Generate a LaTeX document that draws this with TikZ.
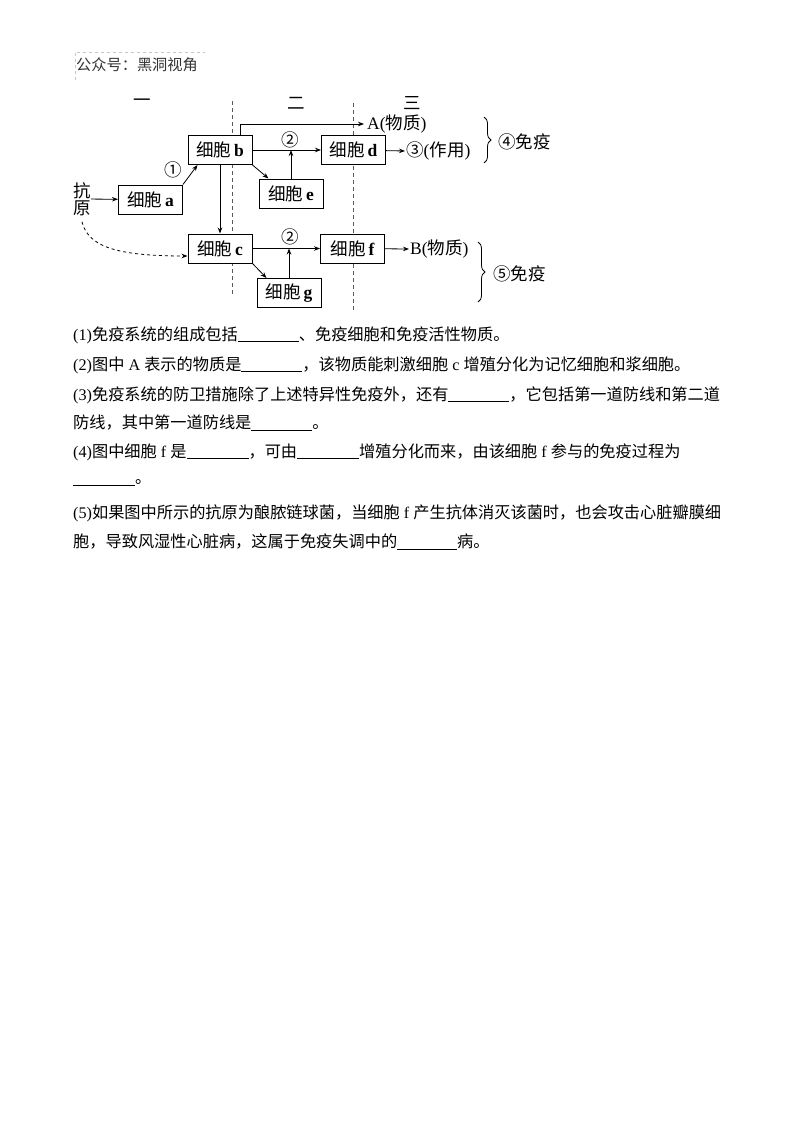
\documentclass[tikz,border=0pt]{standalone}
\usepackage{fontspec}
\setmainfont{Liberation Serif}
\newfontfamily\cjk{Noto Sans CJK SC}
\usetikzlibrary{arrows.meta,decorations.pathreplacing}
\newcommand{\la}[1]{{\rmfamily #1}}
\newcommand{\xb}[1]{细胞\,{\rmfamily\bfseries #1}}
\newcommand{\blank}[1]{\rule[-2pt]{#1}{1.3pt}}

\begin{document}
\begin{tikzpicture}[x=1pt,y=-1pt,
  box/.style={draw,fill=white,line width=1pt,minimum width=64pt,minimum height=29pt,inner sep=0pt,font=\cjk\fontsize{17.5}{17.5}\selectfont},
  lbl/.style={font=\cjk\fontsize{17.5}{17}\selectfont,inner sep=0pt},
  txt/.style={anchor=west,inner sep=0pt,font=\cjk\fontsize{16.2}{16.2}\selectfont},
  arr/.style={-{Stealth[length=6pt,width=4.5pt]},line width=0.8pt},
  sep/.style={line width=0.8pt,gray!70!black,dash pattern=on 4pt off 3pt},
  brc/.style={decorate,decoration={brace,amplitude=7pt},line width=0.8pt}]
\fill[white] (0,0) rectangle (800,1132);
\useasboundingbox (0,0) rectangle (800,1132);

% header
\draw[gray!45,dashed,line width=0.5pt] (75,80) -- (75,52) -- (205,52);
\node[txt,font=\cjk\fontsize{15.2}{15}\selectfont,text=black!80] (hd) at (76,65) {公众号：黑洞视角};

% stages
\foreach \x/\t/\n in {142/一/s1,296/二/s2,412/三/s3}
  \node[lbl] (\n) at (\x,103) {\t};
\draw[sep] (232,101) -- (232,294);
\draw[sep] (353,103) -- (353,310);

% cells
\node[box] (nb) at (220,150) {\xb{b}};
\node[box] (na) at (150.5,199.5) {\xb{a}};
\node[box] (ne) at (291,193.5) {\xb{e}};
\node[box] (nd) at (353.5,150) {\xb{d}};
\node[box] (nc) at (220,248.5) {\xb{c}};
\node[box] (nf) at (352.5,248.5) {\xb{f}};
\node[box] (ng) at (289,293) {\xb{g}};
\node[lbl,align=center] (ag) at (82,199) {抗\\原};

\node[lbl] (c1) at (173,170) {①};
\node[lbl] (c2a) at (290,140) {②};
\node[lbl] (c2b) at (290,237) {②};
\node[lbl,anchor=west] (pa) at (367,124) {\la{A(}物质\la{)}};
\node[lbl,anchor=west] (p3) at (406,151) {③\la{(}作用\la{)}};
\node[lbl,anchor=west] (pb) at (410,249) {\la{B(}物质\la{)}};
\node[lbl,anchor=west] (im4) at (498,142) {④免疫};
\node[lbl,anchor=west] (im5) at (493,274) {⑤免疫};

% arrows
\draw[arr] (ag) -- (na);
\draw[arr] (na.north east) -- ([xshift=10pt]nb.south west);
\draw[arr] (nb) -- (nd);
\draw[arr] ([xshift=20pt]nb.north) |- ([xshift=-3pt]pa.west);
\draw[arr] (nb.south east) -- ([xshift=10pt]ne.north west);
\draw[arr] (ne) -- (ne |- nb);
\draw[arr] (nb) -- (nc);
\draw[arr] (nd) -- ([xshift=-1pt]p3.west);
\draw[arr] (nc) -- (nf);
\draw[arr] (nc.south east) -- ([xshift=10pt]ng.north west);
\draw[arr] (ng) -- (ng |- nc);
\draw[arr] (nf) -- ([xshift=-1pt]pb.west);
\draw[arr,dashed] ([yshift=-6pt]ag.south) .. controls (88,245) and (112,256) .. ([yshift=-7.5pt]nc.west);
\draw[brc] (484,117) -- (484,163);
\draw[brc] (478,242) -- (478,302);

% questions
\node[txt] (q1) at (73,335) {\la{(1)}免疫系统的组成包括\blank{61pt}、免疫细胞和免疫活性物质。};
\node[txt] (q2) at (73,365) {\la{(2)}图中\la{~A~}表示的物质是\blank{61pt}，该物质能刺激细胞\la{~c~}增殖分化为记忆细胞和浆细胞。};
\node[txt] (q3) at (73,395) {\la{(3)}免疫系统的防卫措施除了上述特异性免疫外，还有\blank{61pt}，它包括第一道防线和第二道};
\node[txt] (q3b) at (73,423) {防线，其中第一道防线是\blank{61pt}。};
\node[txt] (q4) at (73,452) {\la{(4)}图中细胞\la{~f~}是\blank{62pt}，可由\blank{62pt}增殖分化而来，由该细胞\la{~f~}参与的免疫过程为};
\node[txt] (q4b) at (73,483) {\blank{62pt}。};
\node[txt] (q5) at (73,513) {\la{(5)}如果图中所示的抗原为酿脓链球菌，当细胞\la{~f~}产生抗体消灭该菌时，也会攻击心脏瓣膜细};
\node[txt] (q5b) at (73,542) {胞，导致风湿性心脏病，这属于免疫失调中的\blank{60pt}病。};
\end{tikzpicture}
\end{document}
